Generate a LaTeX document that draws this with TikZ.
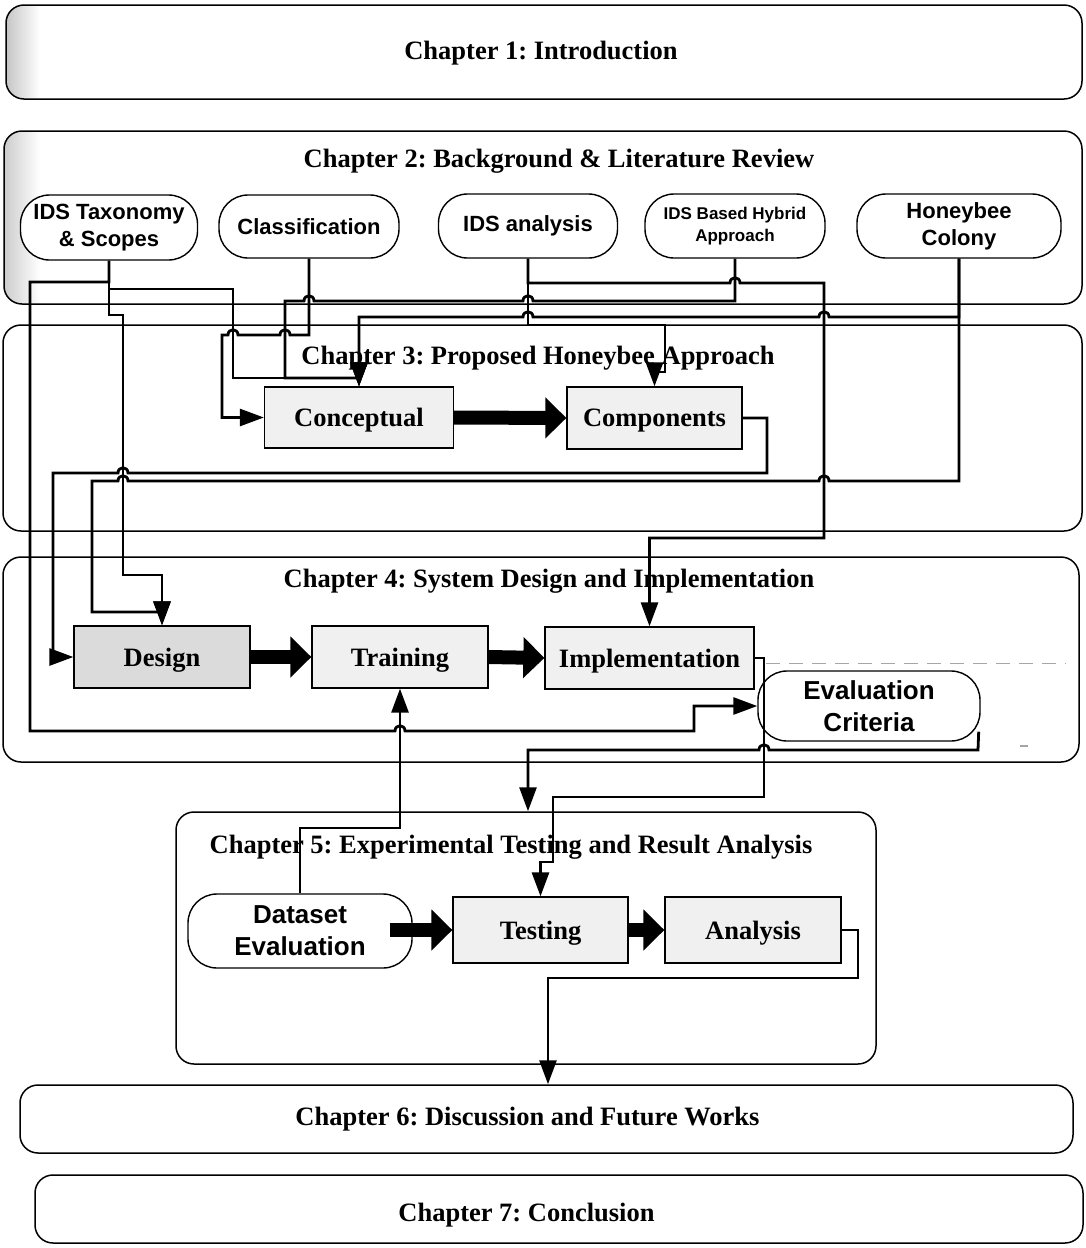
\documentclass[tikz,border=0pt]{standalone}
\usepackage{fontspec}
\setmainfont{Liberation Serif}
\setsansfont{Liberation Sans}
\usetikzlibrary{arrows.meta}
\frenchspacing
\begin{document}
\begin{tikzpicture}[x=1pt,y=-1pt,
  chap/.style={draw, line width=1.5pt, rounded corners=18pt, inner sep=0pt},
  ttl/.style={font=\fontsize{26.5}{30}\selectfont\bfseries, inner sep=0pt, text depth=0pt},
  blk/.style={draw, line width=1.3pt, fill=gray!12, inner sep=0pt, text depth=0pt,
              font=\fontsize{26.5}{30}\selectfont\bfseries},
  pill/.style={draw, line width=1.4pt, rounded corners=29pt, fill=white, inner sep=0pt,
               align=center, font=\sffamily\bfseries\fontsize{22}{27}\selectfont},
  conn/.style={line width=2.8pt, -{Triangle[length=24pt,width=17pt]}},
  fat/.style={line width=14pt, -{Triangle[length=21pt,width=40pt]}},
  jr/.style args={#1/#2}{insert path={-- (#1-5,#2) .. controls (#1-5,#2-7) and (#1+5,#2-7) .. (#1+5,#2)}},
  jl/.style args={#1/#2}{insert path={-- (#1+5,#2) .. controls (#1+5,#2-7) and (#1-5,#2-7) .. (#1-5,#2)}},
]
\useasboundingbox (0,0) rectangle (1086,1248);

% grainy left edges of the first two chapter frames
\begin{scope}
  \clip[rounded corners=18pt] (6,5) rectangle (1082,99);
  \shade[left color=gray!45, right color=white] (6,5) rectangle (40,99);
\end{scope}
\begin{scope}
  \clip[rounded corners=18pt] (4,131) rectangle (1082,304);
  \shade[left color=gray!40, right color=white] (4,131) rectangle (40,304);
\end{scope}

% chapter frames
\node[chap, minimum width=1076pt, minimum height=94pt]  (ch1) at (544,52)    {};
\node[chap, minimum width=1078pt, minimum height=173pt] (ch2) at (543,217.5) {};
\node[chap, minimum width=1079pt, minimum height=206pt] (ch3) at (542.5,428) {};
\node[chap, minimum width=1076pt, minimum height=205pt] (ch4) at (541,659.5) {};
\node[chap, minimum width=700pt,  minimum height=252pt] (ch5) at (526,938)   {};
\node[chap, minimum width=1053pt, minimum height=68pt]  (ch6) at (546.5,1119) {};
\node[chap, minimum width=1048pt, minimum height=68pt]  (ch7) at (559,1209)  {};

% chapter titles
\node[ttl] (t1) at (541,50)   {Chapter 1: Introduction};
\node[ttl] (t2) at (559,158)  {Chapter 2: Background \& Literature Review};
\node[ttl] (t3) at (538,355)  {Chapter 3: Proposed Honeybee Approach};
\node[ttl] (t4) at (549,578)  {Chapter 4: System Design and Implementation};
\node[ttl] (t5) at (511,844)  {Chapter 5: Experimental Testing and Result Analysis};
\node[ttl] (t6) at (527.5,1116) {Chapter 6: Discussion and Future Works};
\node[ttl] (t7) at (526.5,1212) {Chapter 7: Conclusion};

% chapter 2 topics
\node[pill, minimum width=177pt, minimum height=65pt] (tax) at (109,227.5) {IDS Taxonomy\\\& Scopes};
\node[pill, minimum width=180pt, minimum height=63pt] (cls) at (309,226.5) {Classification};
\node[pill, minimum width=179pt, minimum height=64pt] (ana) at (528,226)   {IDS analysis};
\node[pill, minimum width=180pt, minimum height=64pt,
      font=\sffamily\bfseries\fontsize{17}{22}\selectfont] (hyb) at (735,226) {IDS Based Hybrid\\Approach};
\node[pill, minimum width=204pt, minimum height=64pt] (hon) at (959,226)   {Honeybee\\Colony};

% chapter 3 blocks
\node[blk, minimum width=189pt, minimum height=61pt] (conc) at (359,417.5) {Conceptual};
\node[blk, minimum width=175pt, minimum height=62pt] (comp) at (654.5,418) {Components};

% chapter 4 blocks
\node[blk, fill=gray!28, minimum width=176pt, minimum height=62pt] (design) at (162,657) {Design};
\node[blk, minimum width=176pt, minimum height=62pt] (train) at (400,657)  {Training};
\node[blk, minimum width=209pt, minimum height=62pt] (impl)  at (649.5,658) {Implementation};
\node[pill, minimum width=222pt, minimum height=70pt,
      font=\sffamily\bfseries\fontsize{26}{32}\selectfont] (eval) at (869,706) {Evaluation\\Criteria};

% chapter 5 blocks
\node[pill, minimum width=224pt, minimum height=74pt,
      font=\sffamily\bfseries\fontsize{26}{32}\selectfont] (ds) at (300,931) {Dataset\\Evaluation};
\node[blk, minimum width=175pt, minimum height=66pt] (test) at (540.5,930) {Testing};
\node[blk, minimum width=176pt, minimum height=66pt] (anal) at (753,930)   {Analysis};

% faint broken rule beside the evaluation criteria
\draw[gray!70, line width=1pt, dash pattern=on 14pt off 9pt] (766,663) -- (1066,663);
\draw[gray!70, line width=1.2pt] (1020,746) -- (1028,746);

% main flow inside chapters
\draw[fat] (conc.east) -- (comp.west);
\draw[fat] (design.east) -- (train.west);
\draw[fat] (train.east) -- (impl.west);
\draw[fat] ([xshift=-23pt]test.west -| ds.east) -- (test.west);
\draw[fat] (test.east) -- (anal.west);

% links from the background topics
\draw[conn] (tax.south) -- (109,315) -- (123,315) -- (123,575) -| (design.north);
\draw[conn] (tax.south) -- (109,289) -- (233,289) -- (233,378) -| (conc.north);
\draw[conn] (tax.south) -- (109,282) -- (30,282) -- (30,731) [jr=400/731] -- (694,731) -- (694,706) -- (eval.west);
\draw[conn] (cls.south) -- (309,335) [jl=285/335] [jl=233/335] -- (222,335) |- (conc.west);
\draw[conn] (hyb.south) -- (735,301) [jl=528/301] [jl=309/301] -- (285,301) -- (285,378) -| (conc.north);
\draw[conn] (ana.south) -- (528,325) -- (665,325) -- (665,372) -| (comp.north);
\draw[conn] (ana.south) -- (528,283) [jr=735/283] -- (824,283) -- (824,538) -| (impl.north);
\draw[conn] (hon.south) -- (959,317) [jl=824/317] [jl=528/317] -- (359,317) -- (conc.north);
\draw[conn] (hon.south) -- (959,481) [jl=824/481] [jl=123/481] -- (92,481) -- (92,612) -| (design.north);

% links between chapters
\draw[conn] (comp.east) -- (767,418) -- (767,473) [jl=123/473] -- (53,473) |- (design.west);
\draw[conn] (impl.east) -- (764,658) -- (764,797) -- (553,797) -- (553,862) -| (test.north);
\draw[conn] ([xshift=-2pt,yshift=10pt]eval.south east) -- (978,750) [jl=764/750] -- (528,750) -- ([xshift=2pt]ch5.north);
\draw[conn] (ds.north) -- (300,828) -| (train.south);
\draw[conn] (anal.east) -- (858,930) -- (858,978) -- (548,978) -- ([xshift=1.5pt]ch6.north);
\end{tikzpicture}
\end{document}
